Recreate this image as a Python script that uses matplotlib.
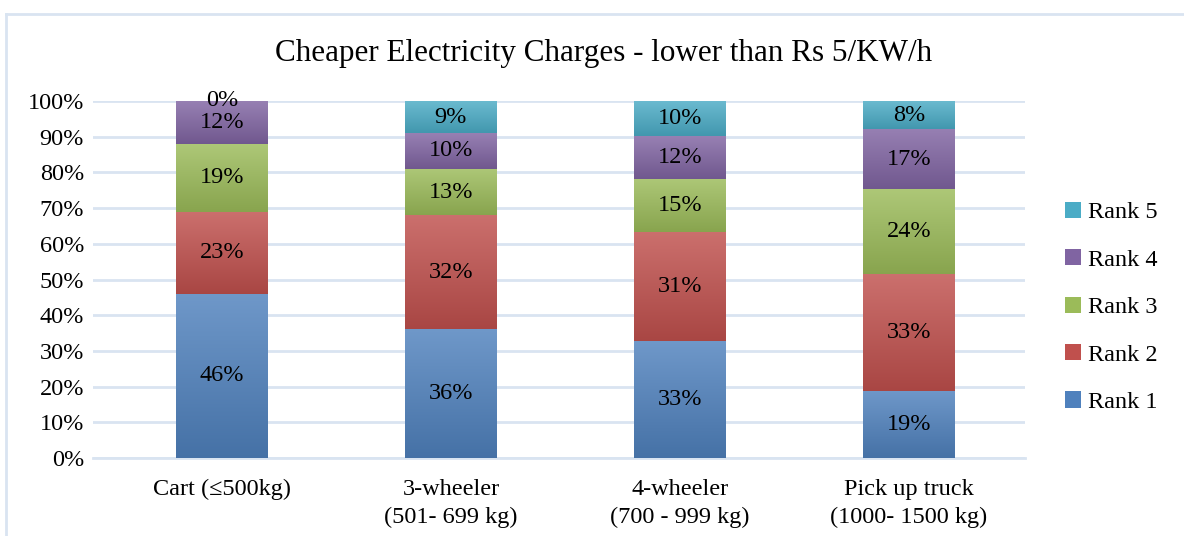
import numpy as np
import matplotlib
matplotlib.use("Agg")
from matplotlib import pyplot as plt
from matplotlib.lines import Line2D
from matplotlib.colors import to_rgb

# data (label values, each column is rescaled to 100%)
categories = ["Cart (≤500kg)", "3-wheeler\n(501- 699 kg)", "4-wheeler\n(700 - 999 kg)", "Pick up truck\n(1000- 1500 kg)"]
rank1 = [46, 36, 33, 19]
rank2 = [23, 32, 31, 33]
rank3 = [19, 13, 15, 24]
rank4 = [12, 10, 12, 17]
rank5 = [0, 9, 10, 8]
series_names = ["Rank 1", "Rank 2", "Rank 3", "Rank 4", "Rank 5"]
colors = ["#4F81BD", "#C0504D", "#9BBB59", "#8064A2", "#4BACC6"]

plt.rcParams["font.family"] = ["Liberation Serif", "DejaVu Serif"]
FS = 17.5

fig = plt.figure(figsize=(11.84, 5.36), dpi=100)
ax = fig.add_axes([93 / 1184, 78 / 536, 932 / 1184, 357 / 536])

data = np.array([rank1, rank2, rank3, rank4, rank5], dtype=float)
totals = data.sum(axis=0)
frac = data / totals
x = np.arange(len(categories))
bottom = np.zeros(len(categories))


def shade(c, f):
    c = np.array(to_rgb(c))
    if f > 0:
        return c + (1 - c) * f
    return c * (1 + f)


handles = []
for i in range(len(series_names)):
    bars = ax.bar(x, frac[i], 0.40, bottom=bottom, color=colors[i], label=series_names[i], zorder=2)
    handles.append(bars)
    # vertical gradient: lighter at the top, darker at the bottom
    grad = np.linspace(0, 1, 64)[:, None]
    top_c, bot_c = shade(colors[i], 0.18), shade(colors[i], -0.12)
    img = bot_c[None, None, :] * (1 - grad[..., None]) + top_c[None, None, :] * grad[..., None]
    for p in bars.patches:
        if p.get_height() <= 0:
            continue
        x0, y0 = p.get_x(), p.get_y()
        im = ax.imshow(img, extent=[x0, x0 + p.get_width(), y0, y0 + p.get_height()],
                       origin="lower", aspect="auto", zorder=3, interpolation="bilinear")
        im.set_clip_path(p)
    for j, p in enumerate(bars.patches):
        ax.text(p.get_x() + p.get_width() / 2, bottom[j] + frac[i][j] / 2, "%d%%" % data[i][j],
                ha="center", va="center", fontsize=FS, color="black", zorder=4)
    bottom = bottom + frac[i]

ax.set_xlim(-0.563, 3.507)
ax.set_ylim(0, 1)
ax.set_yticks(np.arange(0, 1.01, 0.1))
ax.set_yticklabels(["%d%%" % v for v in range(0, 101, 10)], fontsize=FS)
ax.set_xticks(x)
ax.set_xticklabels(categories, fontsize=FS, linespacing=1.42)
ax.tick_params(axis="both", length=0)
ax.tick_params(axis="y", pad=6.5)
ax.tick_params(axis="x", pad=15)
ax.grid(axis="y", color="#D9E4F1", linewidth=2, zorder=0)
ax.set_axisbelow(True)
for s in ["top", "right", "left"]:
    ax.spines[s].set_visible(False)
ax.spines["bottom"].set_color("#D9E4F1")
ax.spines["bottom"].set_linewidth(2)

fig.text(604 / 1184, 1 - 53 / 536, "Cheaper Electricity Charges - lower than Rs 5/KW/h",
         ha="center", va="center", fontsize=22.4)

ax.legend(handles[::-1], series_names[::-1], loc="center left",
          frameon=False, fontsize=FS, handlelength=0.65, handleheight=0.65,
          labelspacing=1.06, handletextpad=0.3, borderpad=0, borderaxespad=0)
leg = ax.get_legend()
leg.set_bbox_to_anchor((1.043, 0.422), transform=ax.transAxes)

# outer chart border
fig.add_artist(Line2D([6 / 1184, 1], [1 - 14 / 536, 1 - 14 / 536], color="#D9E4F1", lw=2))
fig.add_artist(Line2D([6 / 1184, 6 / 1184], [0, 1 - 14 / 536], color="#D9E4F1", lw=2))

fig.savefig("out.png", dpi=100)
